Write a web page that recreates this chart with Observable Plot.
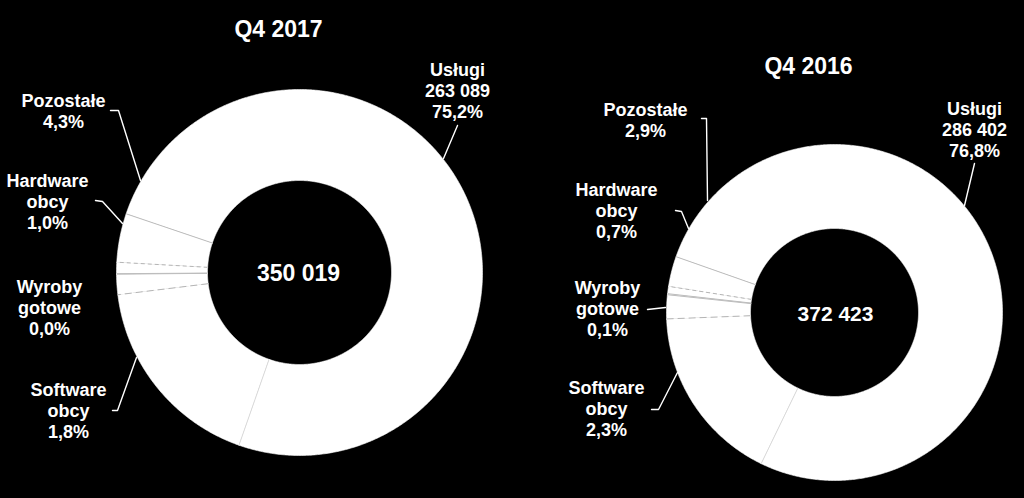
<!DOCTYPE html>
<html>
<head>
<meta charset="utf-8">
<script src="https://cdn.jsdelivr.net/npm/d3@7"></script>
<script src="https://cdn.jsdelivr.net/npm/@observablehq/plot@0.6"></script>
<style>
  html, body { margin: 0; padding: 0; background: #000; }
  #chart svg { display: block; }
</style>
</head>
<body>
<div id="chart"></div>
<script>
// ---------- DATA ----------
const categories = ["Usługi", "Software własny", "Software obcy", "Wyroby gotowe", "Hardware obcy", "Pozostałe"];
const labelNames = [["Usługi"], null, ["Software", "obcy"], ["Wyroby", "gotowe"], ["Hardware", "obcy"], ["Pozostałe"]];
const years = ["Q4 2017", "Q4 2016"];
const share2017 = [75.2, 17.7, 1.8, 0.04, 1.0, 4.3];   // % of revenue
const share2016 = [76.8, 17.2, 2.3, 0.1, 0.7, 2.9];
const uslugi2017 = 263089;
const uslugi2016 = 286402;
const total2017 = 350019;
const total2016 = 372423;

// ---------- LAYOUT (positions / styles only) ----------
const W = 1024, H = 498;
const layout = {
  "Q4 2017": {
    cx: 299, cy: 272, rOuter: 183, rInner: 92, startDeg: -71.3,
    title: {x: 278, y: 36}, total: {x: 298, y: 280, size: 23},
    labels: {
      "Usługi":        {x: 457, y: 75,  leader: [[457,125],[443,158]]},
      "Pozostałe":     {x: 63,  y: 106, leader: [[110,110],[118,110],[140,180]]},
      "Hardware obcy": {x: 47,  y: 186, leader: [[95,200],[102,201],[122,223]]},
      "Wyroby gotowe": {x: 49,  y: 292, leader: null},
      "Software obcy": {x: 68,  y: 395, leader: [[112,410],[117,410],[136,357]]}
    }
  },
  "Q4 2016": {
    cx: 834, cy: 312, rOuter: 168, rInner: 84, startDeg: -70.6,
    title: {x: 808, y: 73}, total: {x: 835, y: 320, size: 21},
    labels: {
      "Usługi":        {x: 974, y: 114, leader: [[974,163],[964,205]]},
      "Pozostałe":     {x: 645, y: 115, leader: [[701,118],[706,118],[707,200]]},
      "Hardware obcy": {x: 616, y: 195, leader: [[675,210],[681,211],[688,228]]},
      "Wyroby gotowe": {x: 607, y: 293, leader: [[647,309],[665,307]]},
      "Software obcy": {x: 606, y: 393, leader: [[651,409],[658,409],[677,372]]}
    }
  }
};
const LINE = 21.3;
const edgeStyle = {
  "Usługi": "solid", "Software własny": "light", "Software obcy": "long",
  "Wyroby gotowe": "solid", "Hardware obcy": "solid", "Pozostałe": "short"
};

// ---------- BUILD ----------
const loc = d3.formatLocale({decimal: ",", thousands: " ", grouping: [3], currency: ["", ""]});
const fmtInt = loc.format(",d");
const fmtPct = loc.format(".1f");

const series = [
  {year: years[0], shares: share2017, uslugi: uslugi2017, total: total2017},
  {year: years[1], shares: share2016, uslugi: uslugi2016, total: total2016}
];

const slicePts = [], edges = [], textRows = [], leaders = [], titles = [], totals = [];

for (const s of series) {
  const g = layout[s.year];
  const rows = categories.map((c, i) => ({cat: c, value: s.shares[i], i}));
  const arcs = d3.pie().sort(null).value(d => d.value)
    .startAngle(g.startDeg * Math.PI / 180)
    .endAngle(g.startDeg * Math.PI / 180 + 2 * Math.PI)(rows);
  const px = (r, a) => g.cx + r * Math.sin(a);
  const py = (r, a) => g.cy - r * Math.cos(a);
  for (const a of arcs) {
    const key = s.year + "|" + a.data.cat;
    const n = Math.max(2, Math.ceil((a.endAngle - a.startAngle) / (Math.PI / 360)));
    for (let k = 0; k <= n; k++) {
      const t = a.startAngle + (a.endAngle - a.startAngle) * k / n;
      slicePts.push({key, x: px(g.rOuter, t), y: py(g.rOuter, t)});
    }
    for (let k = n; k >= 0; k--) {
      const t = a.startAngle + (a.endAngle - a.startAngle) * k / n;
      slicePts.push({key, x: px(g.rInner, t), y: py(g.rInner, t)});
    }
    edges.push({
      style: edgeStyle[a.data.cat],
      x1: px(g.rInner, a.startAngle), y1: py(g.rInner, a.startAngle),
      x2: px(g.rOuter, a.startAngle), y2: py(g.rOuter, a.startAngle)
    });
    const names = labelNames[a.data.i];
    const L = g.labels[a.data.cat];
    if (names && L) {
      const lines = [...names];
      if (a.data.cat === "Usługi") lines.push(fmtInt(s.uslugi));
      lines.push(fmtPct(a.data.value) + "%");
      lines.forEach((t, j) => textRows.push({x: L.x, y: L.y + j * LINE, text: t}));
      if (L.leader) L.leader.forEach(([x, y]) => leaders.push({key, x, y}));
    }
  }
  titles.push({x: g.title.x, y: g.title.y, text: s.year});
  totals.push({x: g.total.x, y: g.total.y, size: g.total.size, text: fmtInt(s.total)});
}

const edgeMark = (style, stroke, dash) => Plot.link(edges.filter(e => e.style === style), {
  x1: "x1", y1: "y1", x2: "x2", y2: "y2", stroke, strokeWidth: 1, strokeDasharray: dash
});

const chart = Plot.plot({
  width: W, height: H, margin: 0,
  x: {domain: [0, W], range: [0, W], axis: null},
  y: {domain: [0, H], range: [0, H], axis: null},
  style: {background: "#000", color: "#fff", fontFamily: "'Liberation Sans', Arial, sans-serif", overflow: "visible"},
  marks: [
    Plot.line(slicePts, {x: "x", y: "y", z: "key", fill: "#fff", stroke: "#fff", strokeWidth: 0.6, curve: "linear-closed"}),
    edgeMark("solid", "#bdbdbd", null),
    edgeMark("light", "#dadada", null),
    edgeMark("long", "#b5b5b5", "7,4"),
    edgeMark("short", "#b5b5b5", "4,3"),
    Plot.line(leaders, {x: "x", y: "y", z: "key", stroke: "#fff", strokeWidth: 1.4, curve: "linear"}),
    Plot.text(textRows, {x: "x", y: "y", text: "text", fill: "#fff", fontWeight: "bold", fontSize: 18, lineAnchor: "bottom", textAnchor: "middle"}),
    Plot.text(titles, {x: "x", y: "y", text: "text", fill: "#fff", fontWeight: "bold", fontSize: 23, lineAnchor: "bottom", textAnchor: "middle"}),
    Plot.text(totals.slice(0, 1), {x: "x", y: "y", text: "text", fill: "#fff", fontWeight: "bold", fontSize: totals[0].size, lineAnchor: "bottom", textAnchor: "middle"}),
    Plot.text(totals.slice(1), {x: "x", y: "y", text: "text", fill: "#fff", fontWeight: "bold", fontSize: totals[1].size, lineAnchor: "bottom", textAnchor: "middle"})
  ]
});
document.getElementById("chart").appendChild(chart);
</script>
</body>
</html>
